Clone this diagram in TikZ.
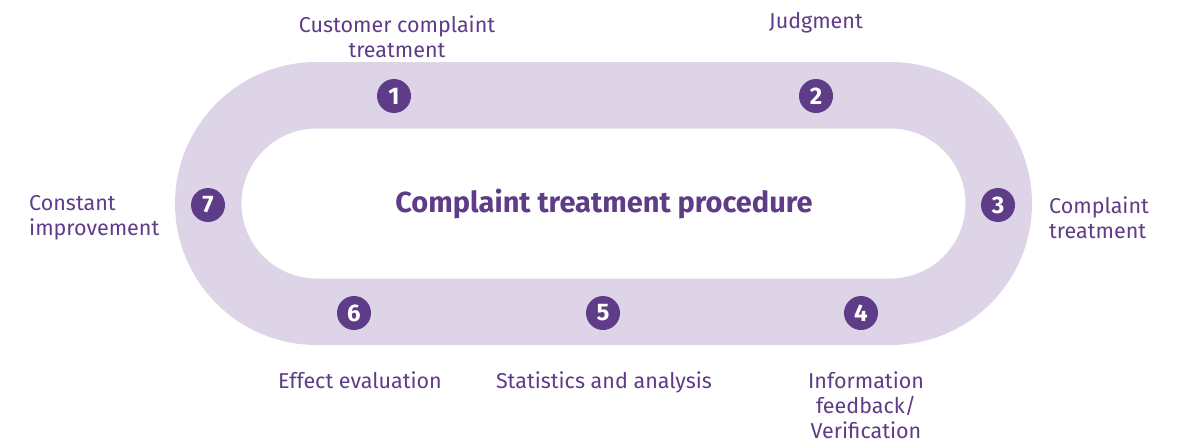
\documentclass[tikz,border=0pt]{standalone}
\usepackage{fontspec}
\setmainfont{Fira Sans}
\usetikzlibrary{positioning}
\definecolor{bandlilac}{HTML}{DDD5E7}
\definecolor{deeppurple}{HTML}{5E3C87}
\begin{document}
\begin{tikzpicture}[
x=1pt, y=-1pt,
numdot/.style={circle, fill=deeppurple, text=white, inner sep=0pt, minimum size=34,
  font=\fontsize{24}{24}\selectfont\bfseries},
steplabel/.style={text=deeppurple, align=center, inner sep=0pt,
  font=\fontsize{21.5}{25}\selectfont},
]
\useasboundingbox (0,0) rectangle (1189,447);
%Band
\draw[bandlilac, line width=66.5, rounded corners=108.25]
  (208.25,95.25) rectangle (998.75,311.75);
%Title
\node[text=deeppurple, font=\fontsize{29}{29}\selectfont\bfseries] (title) at (604,204) {Complaint treatment procedure};
%Numbers
\node[numdot] (N1) at (394,96)  {1};
\node[numdot] (N2) at (816,96)  {2};
\node[numdot] (N3) at (998,205) {3};
\node[numdot] (N4) at (861,313) {4};
\node[numdot] (N5) at (603,313) {5};
\node[numdot] (N6) at (354,313) {6};
\node[numdot] (N7) at (208,205) {7};
%Labels
\node[steplabel, anchor=south] (L1) at (397,58) {Customer complaint\\treatment};
\node[steplabel, anchor=south] (L2) at (816,33) {Judgment};
\node[steplabel, anchor=west, align=left] (L3) at (1049,218) {Complaint\\treatment};
\node[steplabel, anchor=north] (L4) at (866,372) {Information\\feedback/\\Verification};
\node[steplabel, anchor=north] (L5) at (604,372) {Statistics and analysis};
\node[steplabel, anchor=north] (L6) at (360,372) {Effect evaluation};
\node[steplabel, anchor=west, align=left] (L7) at (29,218) {Constant\\improvement};
\end{tikzpicture}
\end{document}
